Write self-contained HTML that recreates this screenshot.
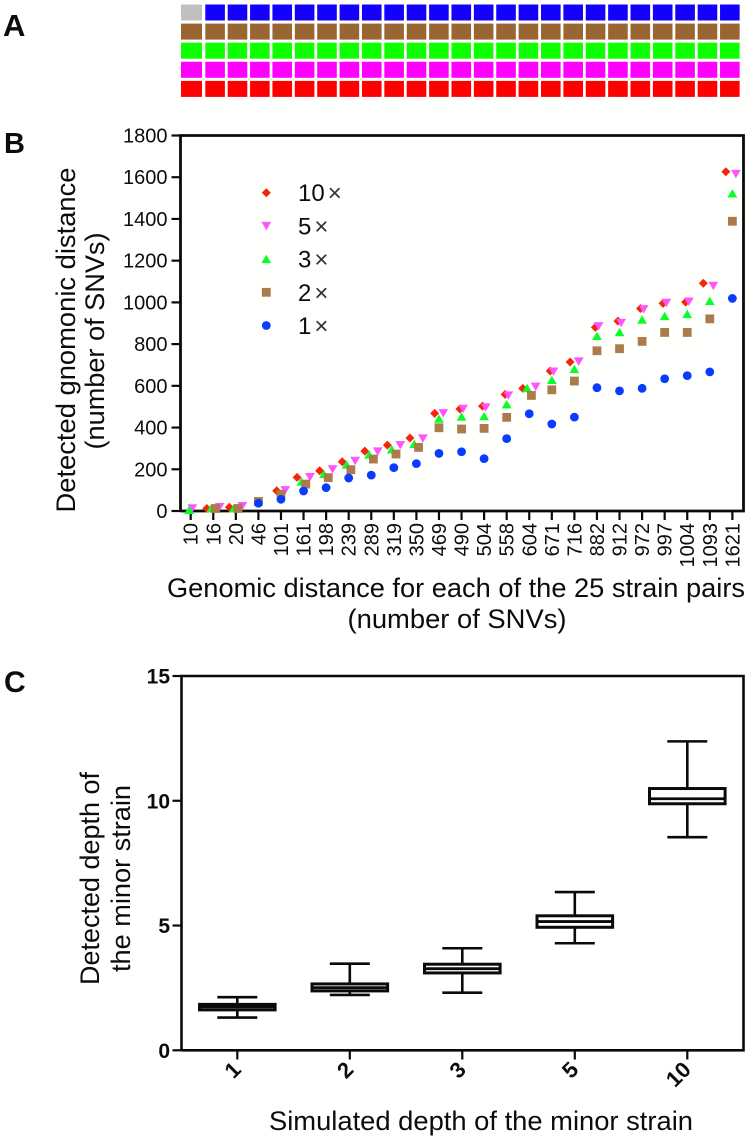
<!DOCTYPE html>
<html lang="en">
<head>
<meta charset="utf-8">
<title>Strain pair SNV detection panels</title>
<style>
html,body{margin:0;padding:0;background:#fff;width:750px;height:1139px;overflow:hidden}
svg{display:block;font-family:"Liberation Sans",Arial,sans-serif}
text{fill:#0c0c0c}
</style>
</head>
<body>
<svg id="fig" xmlns="http://www.w3.org/2000/svg" width="750" height="1139" viewBox="0 0 750 1139">
  <rect width="750" height="1139" fill="#fffffe"/>
  <text x="3" y="36" font-size="31" font-weight="bold">A</text>
  <text x="4" y="153" font-size="29" font-weight="bold">B</text>
  <text x="4" y="692" font-size="30" font-weight="bold">C</text>

  <g id="panelA"></g>

  <g id="panelB"></g>
  <text transform="translate(75 340) rotate(-90)" text-anchor="middle" font-size="27" textLength="345" lengthAdjust="spacingAndGlyphs">Detected gnomonic distance</text>
  <text transform="translate(104 341) rotate(-90)" text-anchor="middle" font-size="27" textLength="217" lengthAdjust="spacingAndGlyphs">(number of SNVs)</text>
  <text x="456" y="597" text-anchor="middle" font-size="27" textLength="578" lengthAdjust="spacingAndGlyphs">Genomic distance for each of the 25 strain pairs</text>
  <text x="457" y="628" text-anchor="middle" font-size="27" textLength="219" lengthAdjust="spacingAndGlyphs">(number of SNVs)</text>
  <g id="legend"></g>

  <g id="panelC"></g>
  <text transform="translate(99 878.5) rotate(-90)" text-anchor="middle" font-size="27" textLength="213" lengthAdjust="spacingAndGlyphs">Detected depth of</text>
  <text transform="translate(130 878.5) rotate(-90)" text-anchor="middle" font-size="27" textLength="187" lengthAdjust="spacingAndGlyphs">the minor strain</text>
  <text x="481" y="1130" text-anchor="middle" font-size="27" textLength="424" lengthAdjust="spacingAndGlyphs">Simulated depth of the minor strain</text>
</svg>

<script>
/* ---------- scatter data (panel B) ---------- */
const pairLabels = [10,16,20,46,101,161,198,239,289,319,350,469,490,504,558,604,671,716,882,912,972,997,1004,1093,1621];
const depth10 = [null,12,18,null,97,161,193,236,287,316,350,468,489,503,559,588,671,714,880,910,971,995,1001,1092,1626];
const depth5  = [13,20,24,null,100,163,200,241,286,316,348,469,490,497,554,596,669,717,886,902,968,998,1004,1080,1616];
const depth3  = [5,12,12,null,null,140,177,222,270,295,321,442,452,454,511,589,628,680,838,857,917,934,944,1006,1522];
const depth2  = [null,12,12,46,80,129,160,198,249,273,305,399,393,396,449,554,581,623,768,778,813,856,856,921,1389];
const depth1  = [null,null,null,37,56,96,112,158,172,208,227,276,284,251,347,466,417,450,591,576,588,634,649,667,1019];
const scatterTicks = [0,200,400,600,800,1000,1200,1400,1600,1800];
const seriesLabels = ['10','5','3','2','1'];

/* ---------- box plot data (panel C) ---------- */
const boxLabels = ['1','2','3','5','10'];
const whiskerHigh = [2.13,3.47,4.09,6.34,12.38];
const boxTop      = [1.84,2.66,3.45,5.39,10.49];
const boxMedian   = [1.74,2.51,3.27,5.16,10.08];
const boxBottom   = [1.62,2.38,3.10,4.93,9.88];
const whiskerLow  = [1.31,2.22,2.31,4.29,8.54];
const boxTicks = [0,5,10,15];

/* ---------- panel A rows ---------- */
const gridRows = ['#1400ff','#996633','#0dff00','#ff00ff','#ff0000'];
const gridCols = pairLabels;

const NS = 'http://www.w3.org/2000/svg';
function make(parent, tag, attrs, txt) {
  const e = document.createElementNS(NS, tag);
  for (const k in attrs) e.setAttribute(k, attrs[k]);
  if (txt !== undefined) e.textContent = txt;
  parent.appendChild(e);
  return e;
}

/* ---------- panel A ---------- */
const gA = document.getElementById('panelA');
const rowTops = i => 4.5 + i * 19.1;
gridRows.forEach((color, r) => {
  gridCols.forEach((c, i) => {
    const grey = r === 0 && i === 0;
    const x = i === 0 ? 181 : 205.3 + (i - 1) * 22.38;
    const w = i === 0 ? 21 : 19.6;
    const cell = make(gA, 'rect', {x: x, y: rowTops(r), width: w, height: 16, fill: grey ? '#c0c0c0' : color});
    
    
  });
});

/* ---------- panel B ---------- */
const gB = document.getElementById('panelB');
const B = {left: 180.5, right: 743.5, top: 135.5, bottom: 511, x0: 190.7, step: 22.57, max: 1800};
const bx = i => B.x0 + i * B.step;
const by = v => B.bottom - v / B.max * (B.bottom - B.top);

const frameB = make(gB, 'path', {d: `M${B.left} ${B.bottom}V${B.top}H${B.right}V${B.bottom}H${B.left}`, fill: 'none', stroke: '#0a0a0a', 'stroke-width': 2.8});



scatterTicks.forEach(v => {
  const t = make(gB, 'line', {x1: 171.5, x2: B.left, y1: by(v), y2: by(v), stroke: '#0a0a0a', 'stroke-width': 2.2});
  
  
  const l = make(gB, 'text', {x: 167.5, y: by(v) + 7, 'text-anchor': 'end', 'font-size': 20}, v);
  
  
});
pairLabels.forEach((lab, i) => {
  const t = make(gB, 'line', {x1: bx(i), x2: bx(i), y1: B.bottom, y2: 520, stroke: '#0a0a0a', 'stroke-width': 2.2});
  
  
  const l = make(gB, 'text', {transform: `translate(${bx(i) + 7} 523) rotate(-90)`, 'text-anchor': 'end', 'font-size': 20}, lab);
  
  
});

function marker(parent, kind, x, y) {
  if (kind === 'diamond') {
    return make(parent, 'path', {d: `M${x} ${y-4.5}L${x+4.5} ${y}L${x} ${y+4.5}L${x-4.5} ${y}Z`, fill: '#f5250a'});
  }
  if (kind === 'down') {
    return make(parent, 'path', {d: `M${x-4.9} ${y-4}H${x+4.9}L${x} ${y+4.4}Z`, fill: '#ff55ff'});
  }
  if (kind === 'up') {
    return make(parent, 'path', {d: `M${x-4.9} ${y+4}H${x+4.9}L${x} ${y-4.4}Z`, fill: '#0aff2a'});
  }
  if (kind === 'square') {
    return make(parent, 'rect', {x: x-4.4, y: y-4.4, width: 8.8, height: 8.8, fill: '#ab7b4c'});
  }
  return make(parent, 'circle', {cx: x, cy: y, r: 4.4, fill: '#0a3cff'});
}

const seriesValues = [depth10, depth5, depth3, depth2, depth1];
const seriesKinds = ['diamond', 'down', 'up', 'square', 'circle'];
const dodgeOrder = [0, 2, 3, 1];   /* left-to-right spreading order when markers collide */

/* Prism-style dodge: colliding markers in a category are spread sideways */
function dodgeOffsets(i) {
  const off = [0, 0, 0, 0, 0];
  const present = dodgeOrder.filter(s => seriesValues[s][i] !== null)
    .sort((a, b) => seriesValues[b][i] - seriesValues[a][i]);
  const groups = [];
  present.forEach(s => {
    const g = groups[groups.length - 1];
    const close = g && (by(seriesValues[s][i]) - by(seriesValues[g[g.length - 1]][i])) < 7.4;
    if (close) g.push(s); else groups.push([s]);
  });
  groups.forEach(g => {
    if (g.length < 2) return;
    const ordered = dodgeOrder.filter(s => g.includes(s));
    if (g.length === 2) {
      const dy = Math.abs(by(seriesValues[g[0]][i]) - by(seriesValues[g[1]][i]));
      off[ordered[0]] = dy < 1.95 ? -1.6 : -6.5;
      off[ordered[1]] = dy < 1.95 ? 1.6 : 3.5;
    } else {
      ordered.forEach((s, k) => { off[s] = (k - (ordered.length - 1) / 2) * 4.3; });
    }
  });
  return off;
}

seriesKinds.forEach((kind, s) => {
  const group = make(gB, 'g', {});
  
  
  seriesValues[s].forEach((v, i) => {
    if (v === null) return;
    const m = marker(group, kind, bx(i) + dodgeOffsets(i)[s], by(v));
    
    
  });
});

/* legend */
const gL = document.getElementById('legend');
seriesLabels.forEach((lab, k) => {
  const y = 192.7 + k * 33.2;
  const m = marker(gL, seriesKinds[k], 266.3, y);
  
  
  const t = make(gL, 'text', {x: 298, y: y + 8.5, 'font-size': 24}, lab);
  
  
  const ts = make(t, 'tspan', {dx: 3, 'font-size': 24, fill: '#333'}, '\u00d7');
  
  
});

/* ---------- panel C ---------- */
const gC = document.getElementById('panelC');
const C = {left: 181.5, right: 743.5, top: 676, bottom: 1050.3, x0: 237.3, step: 112.5, max: 15};
const cx = i => C.x0 + i * C.step;
const cy = v => C.bottom - v / C.max * (C.bottom - C.top);

const frameC = make(gC, 'path', {d: `M${C.left} ${C.bottom}V${C.top}H${C.right}V${C.bottom}H${C.left}`, fill: 'none', stroke: '#0a0a0a', 'stroke-width': 2.6});



boxTicks.forEach(v => {
  const t = make(gC, 'line', {x1: 172.5, x2: C.left, y1: cy(v), y2: cy(v), stroke: '#0a0a0a', 'stroke-width': 2.2});
  
  
  const l = make(gC, 'text', {x: 170, y: cy(v) + 7.5, 'text-anchor': 'end', 'font-size': 21, 'font-weight': 'bold'}, v);
  
  
});

boxLabels.forEach((lab, i) => {
  const x = cx(i);
  const t = make(gC, 'line', {x1: x, x2: x, y1: C.bottom, y2: 1059.5, stroke: '#0a0a0a', 'stroke-width': 2.2});
  
  
  const l = make(gC, 'text', {transform: `translate(${x + 5} 1071) rotate(-45)`, 'text-anchor': 'end', 'font-size': 22, 'font-weight': 'bold'}, lab);
  
  

  const g = make(gC, 'g', {stroke: '#0a0a0a', fill: 'none'});
  
  
  const whisk = make(g, 'path', {'stroke-width': 2.6, d:
    `M${x-20} ${cy(whiskerHigh[i])}H${x+20}M${x} ${cy(whiskerHigh[i])}V${cy(boxTop[i])}` +
    `M${x-20} ${cy(whiskerLow[i])}H${x+20}M${x} ${cy(whiskerLow[i])}V${cy(boxBottom[i])}`});
  
  
  const rect = make(g, 'rect', {x: x-37.8, y: cy(boxTop[i]), width: 75.6, height: cy(boxBottom[i]) - cy(boxTop[i]), fill: '#fffffe', 'stroke-width': 3});
  
  
  const med = make(g, 'line', {x1: x-37.8, x2: x+37.8, y1: cy(boxMedian[i]), y2: cy(boxMedian[i]), 'stroke-width': 2.8});
  
  
});
</script>
</body>
</html>
